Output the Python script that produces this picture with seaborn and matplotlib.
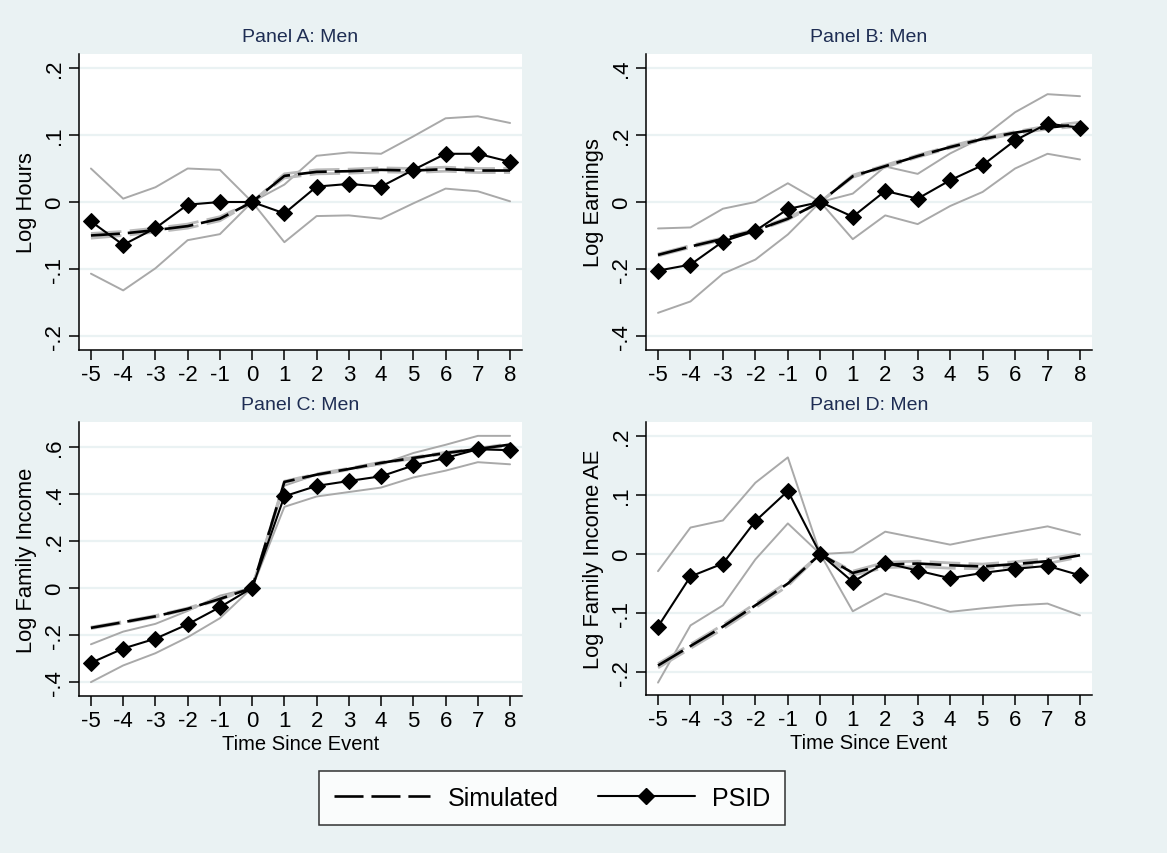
import numpy as np
import pandas as pd
import matplotlib
matplotlib.use("Agg")
import matplotlib.pyplot as plt
from matplotlib.lines import Line2D
import seaborn as sns

sns.set_theme(style="white")
plt.rcParams["font.family"] = ["Liberation Sans", "DejaVu Sans"]
plt.rcParams["text.color"] = "black"
plt.rcParams["axes.labelcolor"] = "black"
plt.rcParams["xtick.color"] = "black"
plt.rcParams["ytick.color"] = "black"

# Event time
t = [-5, -4, -3, -2, -1, 0, 1, 2, 3, 4, 5, 6, 7, 8]

# Panel A: log hours
hours_psid = [-0.029, -0.064, -0.039, -0.004, 0.000, 0.0, -0.017, 0.023, 0.027, 0.023, 0.048, 0.072, 0.072, 0.060]
hours_hi = [0.050, 0.005, 0.022, 0.050, 0.048, 0.0, 0.026, 0.069, 0.074, 0.072, 0.098, 0.125, 0.128, 0.118]
hours_lo = [-0.107, -0.132, -0.099, -0.057, -0.048, 0.0, -0.060, -0.021, -0.020, -0.025, -0.002, 0.020, 0.016, 0.001]
hours_sim = [-0.050, -0.047, -0.042, -0.036, -0.025, 0.0, 0.039, 0.045, 0.046, 0.048, 0.047, 0.049, 0.047, 0.047]
hours_sim_lo = [-0.054, -0.050, -0.045, -0.039, -0.028, 0.0, 0.036, 0.042, 0.043, 0.045, 0.044, 0.046, 0.044, 0.044]
hours_sim_hi = [-0.047, -0.044, -0.039, -0.033, -0.022, 0.0, 0.042, 0.048, 0.049, 0.051, 0.050, 0.052, 0.050, 0.050]

# Panel B: log earnings
earn_psid = [-0.205, -0.187, -0.118, -0.086, -0.021, 0.0, -0.044, 0.033, 0.010, 0.065, 0.110, 0.184, 0.234, 0.222]
earn_hi = [-0.079, -0.076, -0.020, 0.000, 0.056, 0.0, 0.025, 0.106, 0.084, 0.145, 0.193, 0.268, 0.322, 0.316]
earn_lo = [-0.331, -0.297, -0.214, -0.172, -0.097, 0.0, -0.111, -0.040, -0.066, -0.012, 0.030, 0.100, 0.144, 0.127]
earn_sim = [-0.158, -0.133, -0.110, -0.085, -0.050, 0.0, 0.077, 0.107, 0.137, 0.164, 0.188, 0.207, 0.222, 0.232]
earn_sim_lo = [-0.161, -0.136, -0.113, -0.088, -0.053, 0.0, 0.074, 0.104, 0.134, 0.161, 0.185, 0.204, 0.218, 0.226]
earn_sim_hi = [-0.155, -0.130, -0.107, -0.082, -0.047, 0.0, 0.080, 0.110, 0.140, 0.167, 0.191, 0.210, 0.227, 0.238]

# Panel C: log family income
fam_psid = [-0.319, -0.258, -0.216, -0.155, -0.082, 0.0, 0.390, 0.434, 0.455, 0.475, 0.521, 0.553, 0.590, 0.586]
fam_hi = [-0.240, -0.186, -0.153, -0.098, -0.033, 0.0, 0.435, 0.482, 0.506, 0.526, 0.574, 0.609, 0.647, 0.647]
fam_lo = [-0.401, -0.330, -0.278, -0.210, -0.129, 0.0, 0.345, 0.389, 0.408, 0.427, 0.470, 0.499, 0.535, 0.526]
fam_sim = [-0.170, -0.146, -0.121, -0.089, -0.047, 0.0, 0.451, 0.482, 0.506, 0.532, 0.553, 0.574, 0.591, 0.610]
fam_sim_lo = [-0.173, -0.149, -0.124, -0.092, -0.050, 0.0, 0.448, 0.479, 0.503, 0.529, 0.550, 0.571, 0.588, 0.606]
fam_sim_hi = [-0.167, -0.143, -0.118, -0.086, -0.044, 0.0, 0.454, 0.485, 0.509, 0.535, 0.556, 0.577, 0.594, 0.614]

# Panel D: log family income per adult equivalent
ae_psid = [-0.123, -0.038, -0.016, 0.056, 0.107, 0.0, -0.047, -0.015, -0.028, -0.041, -0.032, -0.025, -0.020, -0.036]
ae_hi = [-0.029, 0.045, 0.057, 0.121, 0.164, 0.0, 0.003, 0.038, 0.027, 0.016, 0.027, 0.037, 0.047, 0.033]
ae_lo = [-0.218, -0.121, -0.087, -0.009, 0.052, 0.0, -0.097, -0.067, -0.081, -0.098, -0.092, -0.087, -0.084, -0.104]
ae_sim = [-0.189, -0.156, -0.123, -0.087, -0.050, 0.0, -0.032, -0.018, -0.016, -0.019, -0.021, -0.017, -0.012, -0.002]
ae_sim_lo = [-0.193, -0.160, -0.127, -0.091, -0.054, 0.0, -0.036, -0.023, -0.021, -0.024, -0.025, -0.021, -0.016, -0.005]
ae_sim_hi = [-0.186, -0.153, -0.120, -0.084, -0.047, 0.0, -0.029, -0.014, -0.012, -0.015, -0.017, -0.013, -0.008, 0.001]

titles = ["Panel A: Men", "Panel B: Men", "Panel C: Men", "Panel D: Men"]
ylabels = ["Log Hours", "Log Earnings", "Log Family Income", "Log Family Income AE"]
yticks = [[-0.2, -0.1, 0, 0.1, 0.2], [-0.4, -0.2, 0, 0.2, 0.4],
          [-0.4, -0.2, 0, 0.2, 0.4, 0.6], [-0.2, -0.1, 0, 0.1, 0.2]]
yticklabels = [["-.2", "-.1", "0", ".1", ".2"], ["-.4", "-.2", "0", ".2", ".4"],
               ["-.4", "-.2", "0", ".2", ".4", ".6"], ["-.2", "-.1", "0", ".1", ".2"]]
ylims = [(-0.221, 0.221), (-0.442, 0.442), (-0.46, 0.706), (-0.239, 0.224)]

panels = [
    (hours_psid, hours_hi, hours_lo, hours_sim, hours_sim_lo, hours_sim_hi),
    (earn_psid, earn_hi, earn_lo, earn_sim, earn_sim_lo, earn_sim_hi),
    (fam_psid, fam_hi, fam_lo, fam_sim, fam_sim_lo, fam_sim_hi),
    (ae_psid, ae_hi, ae_lo, ae_sim, ae_sim_lo, ae_sim_hi),
]

BG = "#EAF2F3"
TITLE_C = "#1E2D53"
CI_C = "#A9A9A9"
W, H = 1167, 854

# axes rectangles in pixels: left, top, right, bottom
rects = [(79, 55, 522, 351), (646, 55, 1092, 351),
         (79, 423, 522, 697), (646, 423, 1092, 696)]

fig = plt.figure(figsize=(W / 100, H / 100), dpi=100, facecolor=BG)

dash = (11, 3)
for i, (rect, data) in enumerate(zip(rects, panels)):
    l, tp, r, b = rect
    ax = fig.add_axes([l / W, 1 - b / H, (r - l) / W, (b - tp) / H])
    ax.set_facecolor("white")
    psid, hi, lo, sim, slo, shi = data

    for yt in yticks[i]:
        ax.axhline(yt, color=BG, lw=1.6, zorder=0)

    sns.lineplot(x=t, y=hi, ax=ax, color=CI_C, lw=1.4, zorder=2)
    sns.lineplot(x=t, y=lo, ax=ax, color=CI_C, lw=1.4, zorder=2)
    sns.lineplot(x=t, y=slo, ax=ax, color="#BBBBBB", lw=2.0, zorder=3,
                 linestyle=(0, dash))
    sns.lineplot(x=t, y=shi, ax=ax, color="#BBBBBB", lw=2.0, zorder=3,
                 linestyle=(0, dash))
    sns.lineplot(x=t, y=sim, ax=ax, color="black", lw=1.9, zorder=4,
                 linestyle=(0, dash))
    sns.lineplot(x=t, y=psid, ax=ax, color="black", lw=1.5, zorder=5,
                 marker="D", markersize=8, markeredgecolor="black")

    ax.set_xlim(-5.37, 8.37)
    ax.set_ylim(*ylims[i])
    ax.set_xticks(t)
    ax.set_xticklabels([str(v) for v in t], fontsize=16)
    ax.set_yticks(yticks[i])
    ax.set_yticklabels(yticklabels[i], fontsize=16, rotation=90, va="center")
    ax.tick_params(axis="both", direction="out", length=7, width=1.1,
                   color="black", bottom=True, left=True, pad=3)
    for side in ["top", "right"]:
        ax.spines[side].set_visible(False)
    for side in ["left", "bottom"]:
        ax.spines[side].set_color("black")
        ax.spines[side].set_linewidth(1.1)
    ax.set_ylabel(ylabels[i], fontsize=15.8, labelpad=5)
    if i >= 2:
        ax.set_xlabel("Time Since Event", fontsize=14.5, labelpad=2)
    else:
        ax.set_xlabel("")
    ax.set_title(titles[i], fontsize=14, color=TITLE_C, pad=9)
    ax.grid(False)

handles = [
    Line2D([], [], color="black", lw=1.9, linestyle=(0, dash)),
    Line2D([], [], color="black", lw=1.5, marker="D", markersize=8),
]
leg = fig.legend(handles, ["Simulated", "PSID"], loc="center",
                 bbox_to_anchor=(552 / W, 1 - 799 / H), ncol=2, fontsize=18,
                 frameon=True, fancybox=False, edgecolor="black",
                 handlelength=3.85, columnspacing=1.6, handletextpad=0.7,
                 borderpad=0.6)
leg.get_frame().set_linewidth(1.1)

fig.savefig("out.png", dpi=100, facecolor=BG)
